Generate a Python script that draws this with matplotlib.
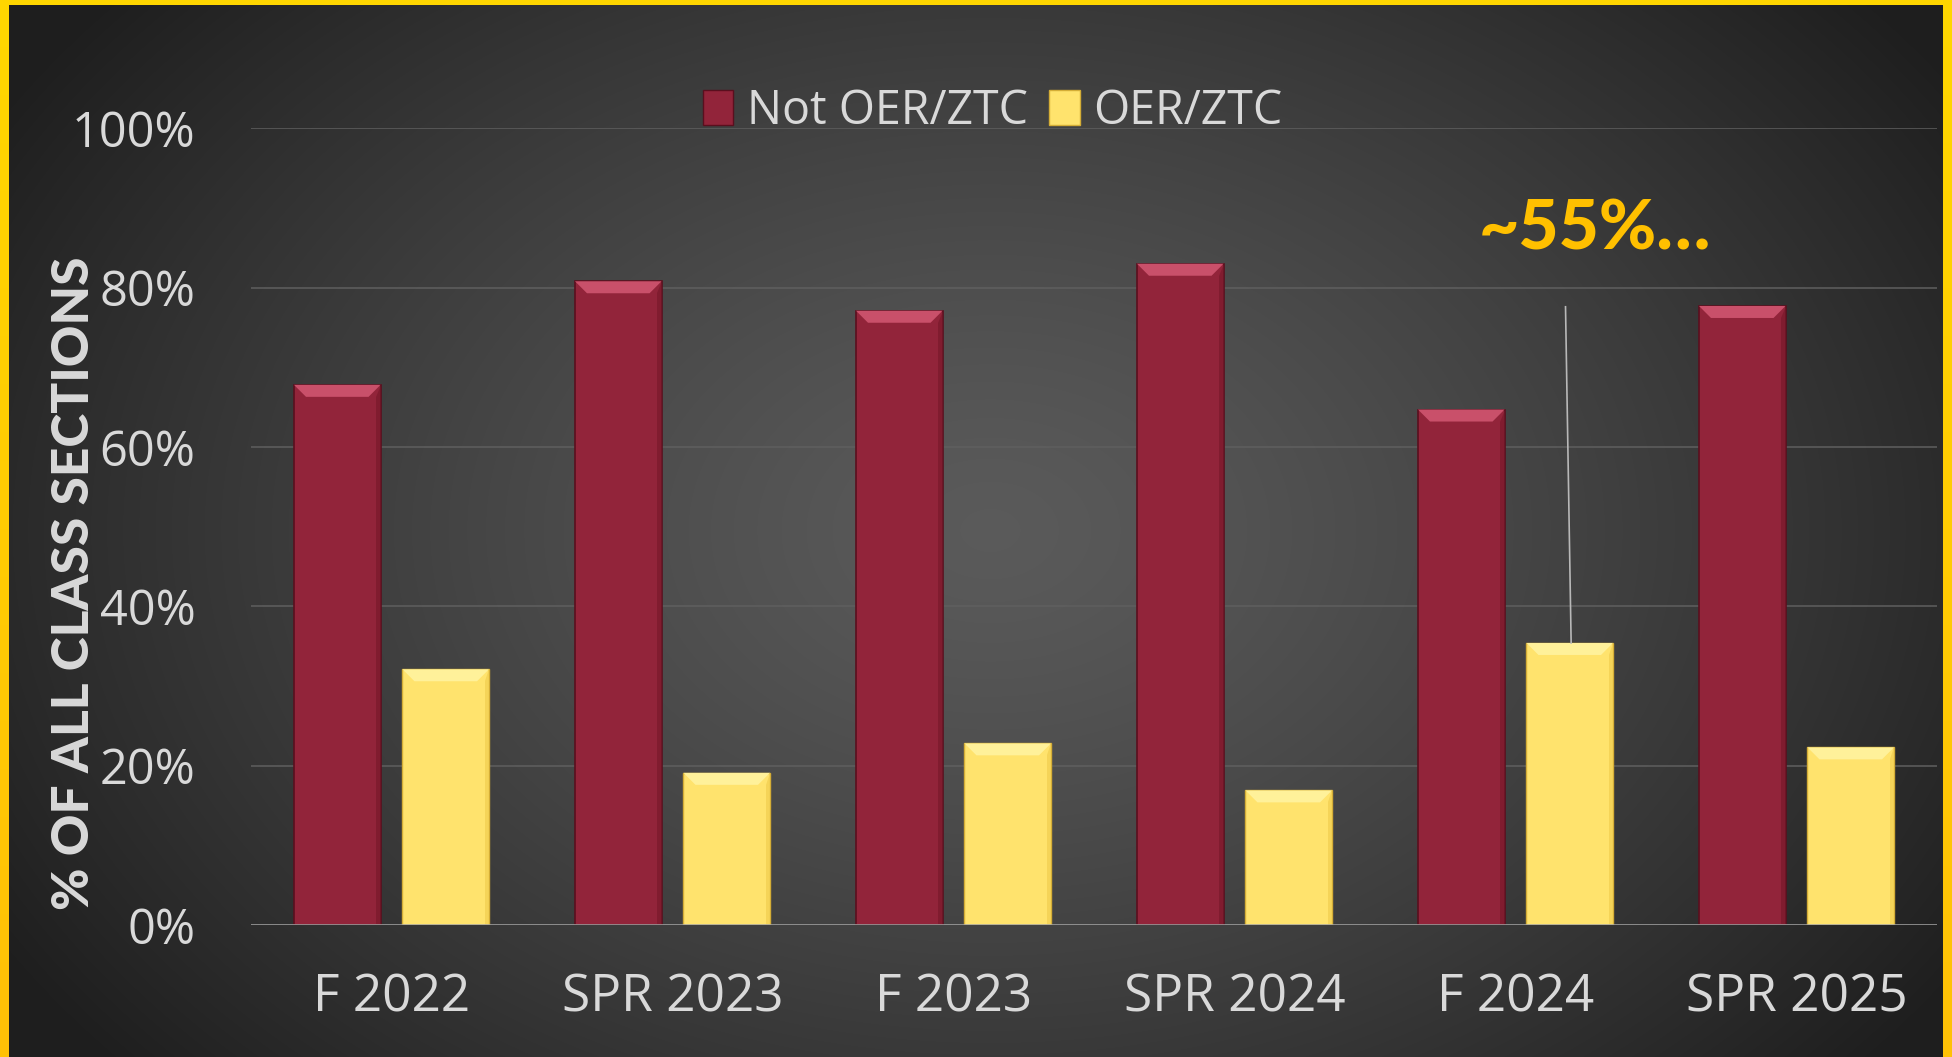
import numpy as np
import matplotlib.pyplot as plt
from matplotlib.patches import Patch, Polygon

# semesters and share of class sections
terms = ["F 2022", "SPR 2023", "F 2023", "SPR 2024", "F 2024", "SPR 2025"]
not_oer = [0.678, 0.808, 0.771, 0.830, 0.647, 0.777]
oer = [0.321, 0.191, 0.228, 0.169, 0.354, 0.223]
y_ticks = [0, 0.2, 0.4, 0.6, 0.8, 1.0]
y_tick_labels = ["0%", "20%", "40%", "60%", "80%", "100%"]
callout_text = "~55%…"
callout_top = 0.776  # where the leader line starts

W, H = 1952, 1057
fig = plt.figure(figsize=(W / 100, H / 100), dpi=100)

# background: radial grey gradient + yellow frame
bg = fig.add_axes([0, 0, 1, 1], zorder=0)
yy, xx = np.mgrid[0:H, 0:W]
r = np.sqrt(((xx - 990) / 1150.0) ** 2 + ((yy - 530) / 820.0) ** 2)
r = np.clip(r, 0, 1)
g = 0.355 - 0.235 * r ** 1.3
img = np.dstack([g, g, g])
frame_top = np.array([1.0, 0.843, 0.0])
frame_bot = np.array([1.0, 0.757, 0.027])
t = (yy / (H - 1.0))[..., None]
frame = frame_top * (1 - t) + frame_bot * t
mask = (xx < 9) | (xx >= W - 9) | (yy < 5)
img[mask] = frame[mask]
bg.imshow(img, aspect="auto", interpolation="nearest", extent=(0, 1, 0, 1))
bg.axis("off")

ax = fig.add_axes([251 / W, 132 / H, (1937 - 251) / W, (928.7 - 132) / H], zorder=1)
ax.set_facecolor("none")
ax.set_xlim(-0.5, len(terms) - 0.5)
ax.set_ylim(0, 1)

for v in y_ticks[1:]:
    ax.axhline(v, color="#5f5f5f", lw=1.1, zorder=1)
ax.axhline(0, color="#a6a6a6", lw=1.8, zorder=4)

x = np.arange(len(terms))
w = 0.308
off = 0.193
red_bars = ax.bar(x - off, not_oer, w, color="#92243a", edgecolor="#5a0f1e", lw=1.2, zorder=2)
yel_bars = ax.bar(x + off, oer, w, color="#ffe36d", edgecolor="#d4ad36", lw=1.0, zorder=2)

# bevel on top of each bar
dy = 12 / 796.7
dx = 12 / 281.0
for bars, top_col, side_col in [(red_bars, "#c9506a", "#741829"), (yel_bars, "#fff19a", "#efca4a")]:
    for b in bars:
        x0, bw, h = b.get_x(), b.get_width(), b.get_height()
        ax.add_patch(Polygon([(x0, h), (x0 + bw, h), (x0 + bw - dx, h - dy), (x0 + dx, h - dy)],
                             closed=True, fc=top_col, ec="none", zorder=3))
        ax.add_patch(Polygon([(x0 + bw, h), (x0 + bw, 0), (x0 + bw - dx * 0.35, 0),
                              (x0 + bw - dx * 0.35, h - dy)],
                             closed=True, fc=side_col, ec="none", alpha=0.6, zorder=3))

ax.set_yticks(y_ticks)
ax.set_yticklabels(y_tick_labels)
ax.set_xticks(x)
ax.set_xticklabels(terms)
ax.tick_params(axis="y", length=0, pad=40, labelsize=35, labelcolor="#d9d9d9")
ax.tick_params(axis="x", length=0, pad=34, labelsize=37, labelcolor="#d9d9d9")
for lab in ax.get_xticklabels() + ax.get_yticklabels():
    lab.set_fontfamily(["Open Sans", "DejaVu Sans"])
for s in ax.spines.values():
    s.set_visible(False)

fig.text(75 / W, 1 - 583 / H, "% OF ALL CLASS SECTIONS", rotation=90, ha="center", va="center",
         fontsize=37, fontweight="black", color="#d9d9d9", family=["Lato", "DejaVu Sans"])

# leader line to the F 2024 OER bar
xi = terms.index("F 2024")
ax.plot([xi + off - 0.015, xi + off + 0.005], [callout_top, oer[xi]], color="#b8b8b8", lw=1.2, zorder=5)
ax.text(xi + 0.283, 0.872, callout_text, ha="center", va="center", fontsize=50, fontweight="black",
        color="#ffc000", family=["Lato", "DejaVu Sans"], clip_on=False, zorder=6)

handles = [Patch(fc="#92243a", ec="#5a0f1e", label="Not OER/ZTC"),
           Patch(fc="#ffe36d", ec="#d4ad36", label="OER/ZTC")]
leg = fig.legend(handles=handles, loc="center", bbox_to_anchor=(993 / W, 1 - 111 / H), ncol=2,
                 frameon=False, handlelength=0.65, handleheight=0.8, handletextpad=0.3,
                 columnspacing=0.45, prop={"family": ["Open Sans", "DejaVu Sans"], "size": 33.5})
for txt in leg.get_texts():
    txt.set_color("#d9d9d9")

fig.savefig("out.png", dpi=100)
